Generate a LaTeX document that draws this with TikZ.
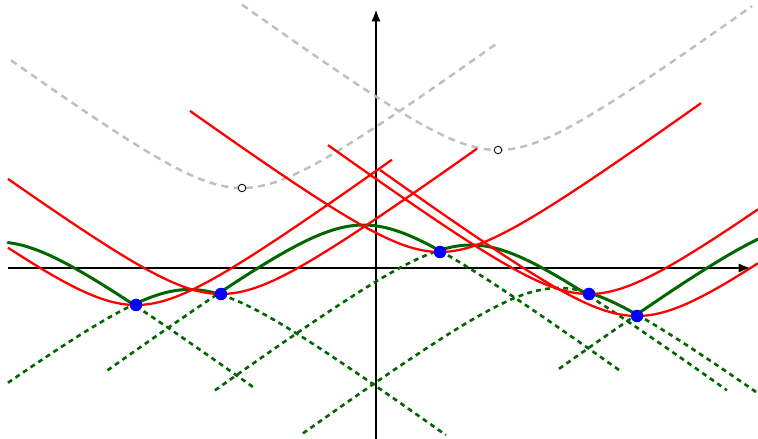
\documentclass[tikz,border=0pt]{standalone}
\usetikzlibrary{arrows.meta}

\begin{document}
\begin{tikzpicture}[declare function={hb(\t)=sqrt(0.9025+0.5329*(\t)*(\t))-0.95;}]

    % Styles for axes, curves and markers
    \tikzset{
        axis/.style={line width=1.6pt, black, -{Latex[length=7pt, width=5.2pt]}},
        redcurve/.style={line width=1.3pt, red, samples=60, smooth},
        greencurve/.style={line width=1.7pt, green!40!black, samples=40, smooth, line cap=round},
        greendash/.style={line width=1.5pt, green!40!black, dash pattern=on 2.8pt off 2.4pt, samples=60, smooth},
        graydash/.style={line width=1.4pt, black!25, dash pattern=on 4pt off 3pt, samples=60, smooth},
        bluedot/.style={circle, fill=blue, inner sep=0pt, minimum size=0.25cm},
        opendot/.style={circle, draw=black, fill=white, line width=0.5pt, inner sep=0pt, minimum size=0.15cm}
    }

    \useasboundingbox (-7.52,-3.42) rectangle (7.64,5.36);

    % Axes
    \coordinate (xstart) at (-7.36,0);
    \coordinate (xend) at (7.50,0);
    \coordinate (ystart) at (0,-3.42);
    \coordinate (yend) at (0,5.18);
    \draw[axis] (xstart) -- (xend);
    \draw[axis] (ystart) -- (yend);

    % Gray upper hyperbolas
    \draw[graydash] plot[domain=-7.30:2.40] (\x,{1.60+hb(\x+2.68)});
    \draw[graydash] plot[domain=-2.68:7.52] (\x,{2.36+hb(\x-2.44)});

    % Green concave pieces, dashed continuations
    \draw[greendash] plot[domain=-4.80:-2.45] (\x,{0.52-hb(\x+7.57)});
    \draw[greendash] plot[domain=-7.36:-4.80] (\x,{-0.43-hb(\x+3.73)});
    \draw[greendash] plot[domain=-3.10:1.40] (\x,{-0.43-hb(\x+3.73)});
    \draw[greendash] plot[domain=-5.37:-3.10] (\x,{0.86-hb(\x+0.25)});
    \draw[greendash] plot[domain=1.28:4.87] (\x,{0.86-hb(\x+0.25)});
    \draw[greendash] plot[domain=-3.22:1.28] (\x,{0.46-hb(\x-1.90)});
    \draw[greendash] plot[domain=4.26:7.02] (\x,{0.46-hb(\x-1.90)});
    \draw[greendash] plot[domain=-1.46:4.26] (\x,{-0.40-hb(\x-3.66)});
    \draw[greendash] plot[domain=5.22:7.64] (\x,{-0.40-hb(\x-3.66)});
    \draw[greendash] plot[domain=3.66:5.22] (\x,{0.89-hb(\x-8.78)});

    % Green solid curve, glued from the pieces
    \draw[greencurve] plot[domain=-7.36:-4.80] (\x,{0.52-hb(\x+7.57)});
    \draw[greencurve] plot[domain=-4.80:-3.10] (\x,{-0.43-hb(\x+3.73)});
    \draw[greencurve] plot[domain=-3.10:1.28] (\x,{0.86-hb(\x+0.25)});
    \draw[greencurve] plot[domain=1.28:4.26] (\x,{0.46-hb(\x-1.90)});
    \draw[greencurve] plot[domain=4.26:5.22] (\x,{-0.40-hb(\x-3.66)});
    \draw[greencurve] plot[domain=5.22:7.64] (\x,{0.89-hb(\x-8.78)});

    % Red convex hyperbolas
    \draw[redcurve] plot[domain=-7.36:0.32] (\x,{-0.74+hb(\x+4.80)});
    \draw[redcurve] plot[domain=-7.36:2.02] (\x,{-0.52+hb(\x+3.10)});
    \draw[redcurve] plot[domain=-3.72:6.50] (\x,{0.32+hb(\x-1.28)});
    \draw[redcurve] plot[domain=-0.96:7.64] (\x,{-0.52+hb(\x-4.26)});
    \draw[redcurve] plot[domain=0.08:7.64] (\x,{-0.96+hb(\x-5.22)});

    % Vertices of the gray hyperbolas
    \node[opendot] (top1) at (-2.68,1.60) {};
    \node[opendot] (top2) at (2.44,2.36) {};

    % Touching points
    \node[bluedot] (p1) at (-4.80,-0.74) {};
    \node[bluedot] (p2) at (-3.10,-0.52) {};
    \node[bluedot] (p3) at (1.28,0.32) {};
    \node[bluedot] (p4) at (4.26,-0.52) {};
    \node[bluedot] (p5) at (5.22,-0.96) {};

\end{tikzpicture}
\end{document}
